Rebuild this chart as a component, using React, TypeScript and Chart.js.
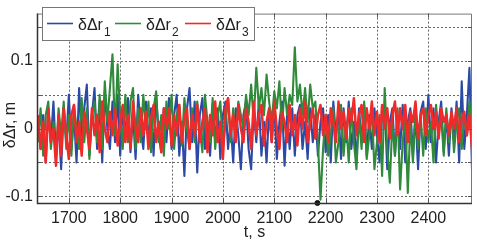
import React, { useEffect, useRef } from "react";
import { Chart, registerables } from "chart.js";
Chart.register(...registerables);

// time base (s)
const T_START = 1640;
const T_STEP = 5;

// δΔr1 (blue)
const R1 = [
  0.01, -0.03, 0.02, -0.05, 0.03, -0.02, 0.04, -0.04, 0.01, -0.06,
  0.03, -0.02, 0.05, -0.03, 0.02, -0.05, 0.06, -0.01, 0.03, 0.065,
  -0.04, 0.02, 0.06, -0.03, 0.04, -0.05, 0.055, 0.0, -0.03, 0.04,
  -0.02, 0.05, -0.04, 0.03, -0.01, 0.045, -0.035, 0.02, -0.045, 0.05,
  0.0, -0.03, 0.04, -0.02, 0.03, -0.04, 0.05, -0.01, -0.035, 0.03,
  -0.02, 0.045, -0.03, 0.02, 0.05, -0.04, 0.01, -0.07, 0.03, 0.06,
  -0.02, 0.04, -0.065, 0.02, 0.045, -0.03, 0.01, -0.04, 0.035, -0.02,
  0.03, -0.045, 0.02, 0.04, -0.03, 0.01, -0.05, 0.03, -0.01, -0.06,
  0.02, 0.04, -0.03, -0.06, 0.03, -0.02, 0.04, -0.04, 0.01, -0.05,
  0.03, -0.02, 0.035, -0.045, 0.01, 0.04, -0.055, 0.02, -0.03, 0.03,
  -0.04, 0.02, 0.035, -0.03, 0.01, -0.045, 0.03, -0.02, 0.02, -0.04,
  0.01, 0.03, -0.035, 0.02, -0.05, 0.04, -0.01, 0.025, -0.045, 0.03,
  -0.02, 0.04, -0.03, 0.01, -0.05, 0.03, -0.02, 0.035, -0.04, 0.02,
  -0.03, 0.03, -0.01, -0.05, 0.02, 0.035, -0.06, 0.01, 0.03, -0.04,
  0.02, -0.03, 0.035, -0.05, 0.01, 0.03, -0.04, 0.02, -0.06, 0.025,
  0.04, -0.03, 0.05, -0.02, 0.03, -0.05, 0.01, 0.04, -0.035, 0.02,
  -0.04, 0.03, -0.02, 0.04, -0.05, 0.07, -0.03, 0.02, 0.09, -0.06,
];

// δΔr2 (green)
const R2 = [
  -0.02, 0.03, -0.04, 0.02, 0.04, -0.03, 0.01, -0.045, 0.03, -0.01,
  0.04, -0.03, 0.02, -0.04, 0.035, 0.0, -0.03, 0.045, -0.02, 0.03,
  -0.045, 0.02, 0.04, -0.02, 0.05, -0.03, 0.07, 0.01, 0.06, 0.11,
  -0.01, 0.095, 0.02, -0.03, 0.05, -0.02, 0.04, 0.06, -0.03, 0.03,
  -0.02, 0.05, 0.0, 0.04, -0.035, 0.03, 0.055, -0.02, 0.02, -0.04,
  0.04, 0.0, 0.05, -0.03, 0.02, 0.035, -0.025, 0.045, 0.0, -0.03,
  0.03, -0.02, 0.04, 0.0, -0.035, 0.05, 0.01, -0.02, 0.045, -0.03,
  0.02, 0.04, -0.03, 0.01, 0.045, -0.02, 0.03, -0.01, 0.04, 0.02,
  0.0, 0.05, 0.02, 0.065, 0.01, 0.09, 0.03, 0.06, 0.02, 0.08,
  0.04, 0.01, 0.055, 0.03, 0.07, 0.0, 0.06, 0.02, 0.05, 0.035,
  0.12, 0.04, 0.065, 0.02, 0.06, 0.01, 0.065, 0.03, 0.04, -0.02,
  -0.105, -0.03, 0.02, -0.04, -0.01, 0.03, -0.05, -0.02, 0.035, -0.04,
  0.01, -0.05, 0.03, -0.02, -0.06, 0.02, -0.03, 0.04, -0.045, -0.01,
  0.03, -0.06, -0.02, 0.02, -0.07, 0.06, -0.03, -0.08, 0.01, -0.04,
  0.03, -0.09, -0.02, 0.02, -0.095, 0.01, -0.05, 0.03, -0.03, 0.02,
  -0.04, 0.03, -0.02, 0.01, -0.05, 0.035, -0.01, 0.02, -0.04, 0.03,
  -0.02, 0.025, -0.035, 0.01, 0.03, -0.03, 0.02, -0.01, 0.04, -0.02,
];

// δΔr3 (red)
const R3 = [
  0.02, -0.03, 0.01, -0.05, 0.03, -0.02, 0.0, -0.055, 0.02, -0.04,
  0.03, -0.01, -0.045, 0.02, 0.035, -0.02, 0.01, -0.04, 0.025, 0.0,
  -0.03, 0.03, -0.01, 0.02, -0.035, 0.04, 0.0, -0.02, 0.025, -0.01,
  0.03, -0.025, 0.01, 0.035, -0.02, 0.02, -0.03, 0.04, 0.0, -0.02,
  0.03, -0.01, 0.025, -0.03, 0.015, 0.035, -0.02, 0.01, -0.035, 0.03,
  0.0, 0.03, -0.025, 0.02, -0.01, 0.035, -0.02, 0.015, 0.03, -0.03,
  0.02, -0.01, 0.035, -0.02, 0.01, 0.03, -0.035, 0.02, -0.01, 0.04,
  -0.02, 0.01, -0.045, 0.03, 0.045, -0.01, 0.02, -0.02, 0.035, 0.0,
  -0.02, 0.03, 0.01, -0.03, 0.04, -0.01, 0.02, 0.035, -0.025, 0.01,
  0.03, -0.02, 0.04, 0.0, -0.03, 0.025, 0.01, -0.02, 0.035, -0.01,
  0.02, -0.025, 0.03, 0.0, 0.04, -0.02, 0.01, 0.03, -0.015, 0.02,
  0.035, -0.01, 0.02, -0.02, 0.03, 0.01, -0.02, 0.04, 0.0, 0.025,
  -0.015, 0.03, 0.01, 0.045, -0.01, 0.02, 0.035, -0.02, 0.03, 0.0,
  0.04, -0.01, 0.025, -0.02, 0.035, 0.0, 0.03, -0.015, 0.02, 0.04,
  -0.01, 0.03, 0.0, 0.035, -0.02, 0.025, 0.01, 0.04, -0.015, 0.02,
  0.03, -0.01, 0.02, 0.035, 0.0, 0.025, -0.015, 0.03, 0.01, 0.02,
  -0.01, 0.025, 0.0, 0.03, -0.02, 0.015, 0.025, -0.01, 0.02, -0.03,
];

const SERIES_SUBS = ["1", "2", "3"];
const COLORS = ["#2b4aa6", "#2f8a3a", "#f02a2a"];
const WIDTHS = [2.1, 2.1, 2.5];
const X_TICKS = [1700, 1800, 1900, 2000, 2100, 2200, 2300, 2400];
const Y_LABEL_TICKS = [-0.1, 0, 0.1];
const Y_GRID = [-0.1, -0.05, 0, 0.05, 0.1, 0.15];
const MARKER = [{ x: 2184, y: -0.11 }];
const X_MIN = 1638;
const X_MAX = 2485;
const Y_MIN = -0.11;
const Y_MAX = 0.17;

const FONT = '"Liberation Sans", Arial, sans-serif';
const TEXT_COLOR = "#222";

const toPoints = (vals: number[]) =>
  vals.map((v, i) => ({ x: T_START + i * T_STEP, y: v }));

const framePlugin = {
  id: "frame",
  beforeDatasetsDraw(chart: any) {
    const { ctx, chartArea: a, scales } = chart;
    const xs = scales.x;
    const ys = scales.y;
    ctx.save();
    ctx.strokeStyle = "#666";
    ctx.lineWidth = 1;
    ctx.setLineDash([2, 2]);
    X_TICKS.forEach((v) => {
      const px = Math.round(xs.getPixelForValue(v)) + 0.5;
      ctx.beginPath();
      ctx.moveTo(px, a.top);
      ctx.lineTo(px, a.bottom);
      ctx.stroke();
    });
    Y_GRID.forEach((v) => {
      const py = Math.round(ys.getPixelForValue(v)) + 0.5;
      ctx.beginPath();
      ctx.moveTo(a.left, py);
      ctx.lineTo(a.right, py);
      ctx.stroke();
    });
    ctx.restore();
  },
  afterDatasetsDraw(chart: any) {
    const { ctx, chartArea: a, scales } = chart;
    const xs = scales.x;
    const ys = scales.y;
    ctx.save();
    ctx.setLineDash([]);
    ctx.strokeStyle = "#777";
    ctx.lineWidth = 1;
    ctx.beginPath();
    ctx.moveTo(a.left, a.top + 0.5);
    ctx.lineTo(a.right - 0.5, a.top + 0.5);
    ctx.lineTo(a.right - 0.5, a.bottom);
    ctx.stroke();
    ctx.strokeStyle = "#555";
    X_TICKS.forEach((v) => {
      const px = Math.round(xs.getPixelForValue(v)) + 0.5;
      ctx.beginPath();
      ctx.moveTo(px, a.top);
      ctx.lineTo(px, a.top + 4);
      ctx.moveTo(px, a.bottom);
      ctx.lineTo(px, a.bottom - 4);
      ctx.stroke();
    });
    Y_GRID.forEach((v) => {
      const py = Math.round(ys.getPixelForValue(v)) + 0.5;
      ctx.beginPath();
      ctx.moveTo(a.left, py);
      ctx.lineTo(a.left + 4, py);
      ctx.moveTo(a.right, py);
      ctx.lineTo(a.right - 4, py);
      ctx.stroke();
    });
    ctx.strokeStyle = "#333";
    ctx.lineWidth = 1.5;
    ctx.beginPath();
    ctx.moveTo(a.left + 0.5, a.top);
    ctx.lineTo(a.left + 0.5, a.bottom + 0.5);
    ctx.lineTo(a.right, a.bottom + 0.5);
    ctx.stroke();

    // legend
    const lx = a.left + 5;
    const ly = 7;
    const lw = 212;
    const lh = 33;
    ctx.fillStyle = "#fff";
    ctx.fillRect(lx, ly, lw, lh);
    ctx.strokeStyle = "#777";
    ctx.lineWidth = 1;
    ctx.strokeRect(lx + 0.5, ly + 0.5, lw, lh);
    const offs = [5, 73, 143];
    SERIES_SUBS.forEach((sub, i) => {
      const x0 = lx + offs[i];
      ctx.strokeStyle = COLORS[i];
      ctx.lineWidth = 1.6;
      ctx.beginPath();
      ctx.moveTo(x0, ly + 16.5);
      ctx.lineTo(x0 + 26, ly + 16.5);
      ctx.stroke();
      ctx.fillStyle = TEXT_COLOR;
      ctx.textBaseline = "alphabetic";
      ctx.textAlign = "left";
      ctx.font = `16px ${FONT}`;
      const main = "δΔr";
      ctx.fillText(main, x0 + 31, ly + 23);
      const w = ctx.measureText(main).width;
      ctx.font = `12px ${FONT}`;
      ctx.fillText(sub, x0 + 32 + w, ly + 29);
    });

    // axis titles
    ctx.fillStyle = TEXT_COLOR;
    ctx.font = `16px ${FONT}`;
    ctx.textAlign = "center";
    ctx.textBaseline = "middle";
    ctx.fillText("t, s", (a.left + a.right) / 2, 233);
    ctx.translate(11, 125);
    ctx.rotate(-Math.PI / 2);
    ctx.fillText("δΔr, m", 0, 0);
    ctx.restore();
  },
};

export default function App() {
  const ref = useRef<HTMLCanvasElement | null>(null);
  useEffect(() => {
    if (!ref.current) return;
    const series = [R1, R2, R3];
    const chart = new Chart(ref.current, {
      type: "line",
      data: {
        datasets: [
          {
            label: "marker",
            data: MARKER,
            showLine: false,
            pointRadius: 2.5,
            pointBackgroundColor: "#111",
            pointBorderColor: "#111",
            clip: false as any,
            order: 0,
          } as any,
          ...series.map((vals, i) => ({
            label: "δΔr" + SERIES_SUBS[i],
            data: toPoints(vals),
            borderColor: COLORS[i],
            backgroundColor: COLORS[i],
            borderWidth: WIDTHS[i],
            borderJoinStyle: "round" as const,
            pointRadius: 0,
            tension: 0,
            order: 3 - i,
          })),
        ],
      },
      options: {
        responsive: false,
        animation: false,
        devicePixelRatio: 1,
        layout: { padding: { top: 2, right: 1, left: 0, bottom: 0 } },
        plugins: {
          legend: { display: false },
          tooltip: { enabled: false },
        },
        scales: {
          x: {
            type: "linear",
            min: X_MIN,
            max: X_MAX,
            afterBuildTicks: (s: any) => {
              s.ticks = X_TICKS.map((v) => ({ value: v }));
            },
            afterFit: (s: any) => {
              s.height = 40;
            },
            grid: { display: false, drawTicks: false },
            border: { display: false },
            ticks: {
              autoSkip: false,
              maxRotation: 0,
              padding: 6,
              color: TEXT_COLOR,
              font: { family: FONT, size: 16 },
              callback: (v: any) => String(v),
            },
          },
          y: {
            type: "linear",
            min: Y_MIN,
            max: Y_MAX,
            afterBuildTicks: (s: any) => {
              s.ticks = Y_LABEL_TICKS.map((v) => ({ value: v }));
            },
            afterFit: (s: any) => {
              s.width = 37;
            },
            grid: { display: false, drawTicks: false },
            border: { display: false },
            ticks: {
              autoSkip: false,
              padding: 4,
              color: TEXT_COLOR,
              font: { family: FONT, size: 16 },
              callback: (v: any) => (v === 0 ? "0" : String(v)),
            },
          },
        },
      },
      plugins: [framePlugin],
    });
    return () => chart.destroy();
  }, []);
  return (
    <div style={{ position: "fixed", left: 0, top: 0, width: 477, height: 243, background: "#fff" }}>
      <canvas ref={ref} width={477} height={243} style={{ display: "block" }} />
    </div>
  );
}
